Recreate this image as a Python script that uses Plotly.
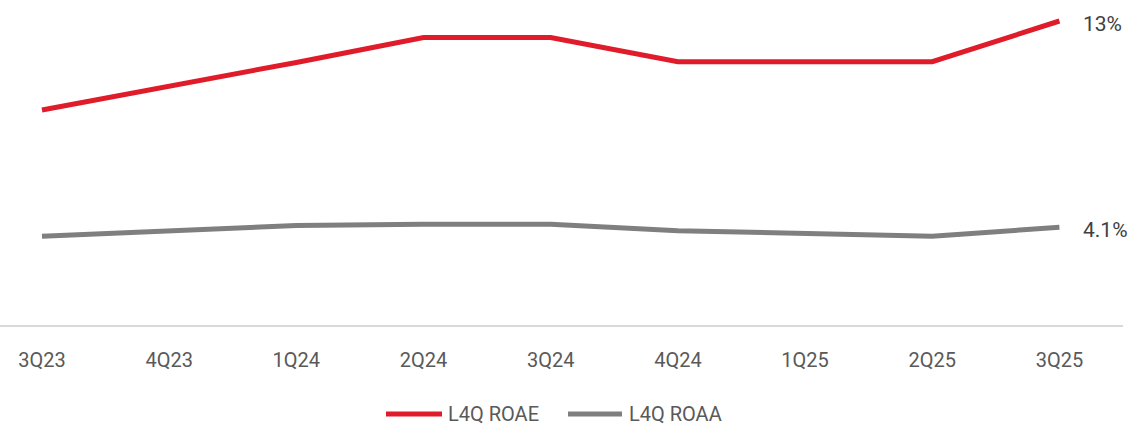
import plotly.graph_objects as go

quarters = ["3Q23", "4Q23", "1Q24", "2Q24", "3Q24", "4Q24", "1Q25", "2Q25", "3Q25"]
roae = [9.19, 10.2, 11.22, 12.28, 12.28, 11.25, 11.25, 11.25, 12.99]
roaa = [3.79, 4.04, 4.25, 4.30, 4.30, 4.03, 3.90, 3.79, 4.18]
series_names = ["L4Q ROAE", "L4Q ROAA"]
end_labels = ["13%", "4.1%"]

RED = "#E01B2A"
GRAY = "#7F7F7F"
colors = [RED, GRAY]
FONT = "Roboto, Liberation Sans, sans-serif"

W, H = 1134, 426
ML, MR, MT, MB = 0, 11, 10, 101
PW, PH = W - ML - MR, H - MT - MB

def px_x(p):
    return (p - ML) / PW

def px_y(p):
    return (H - MB - p) / PH

fig = go.Figure()
for vals, name, col in zip([roae, roaa], series_names, colors):
    fig.add_trace(go.Scatter(x=quarters, y=vals, mode="lines", name=name,
                             line=dict(color=col, width=5), showlegend=False))

for vals, lab in zip([roae, roaa], end_labels):
    fig.add_annotation(x=quarters[-1], y=vals[-1], text=lab, showarrow=False,
                       xanchor="left", yanchor="middle", xshift=22, yshift=-3,
                       font=dict(family=FONT, size=21, color="#404040"))

# custom legend (swatch + label)
legend_y = 414
legend_items = [(386, 442, 446), (568, 622, 627)]
for (x0, x1, xt), name, col in zip(legend_items, series_names, colors):
    fig.add_shape(type="line", xref="paper", yref="paper",
                  x0=px_x(x0), x1=px_x(x1), y0=px_y(legend_y), y1=px_y(legend_y),
                  line=dict(color=col, width=5))
    fig.add_annotation(xref="paper", yref="paper", x=px_x(xt), y=px_y(legend_y),
                       text=name, showarrow=False, xanchor="left", yanchor="middle",
                       font=dict(family=FONT, size=20, color="#595959"))

fig.update_layout(
    width=W, height=H,
    margin=dict(l=ML, r=MR, t=MT, b=MB, autoexpand=False),
    plot_bgcolor="white", paper_bgcolor="white",
    font=dict(family=FONT, size=20, color="#595959"),
    showlegend=False,
    xaxis=dict(type="category", range=[-0.33, 8.5], showgrid=False,
               showline=True, linecolor="#D9D9D9", linewidth=2, automargin=False,
               ticks="", ticklabelstandoff=16,
               tickfont=dict(family=FONT, size=20, color="#595959")),
    yaxis=dict(range=[0, 13.46], visible=False, showgrid=False, zeroline=False),
)

fig.write_html("out.html", config={"displayModeBar": False},
               post_script="document.body.style.margin='0';")
